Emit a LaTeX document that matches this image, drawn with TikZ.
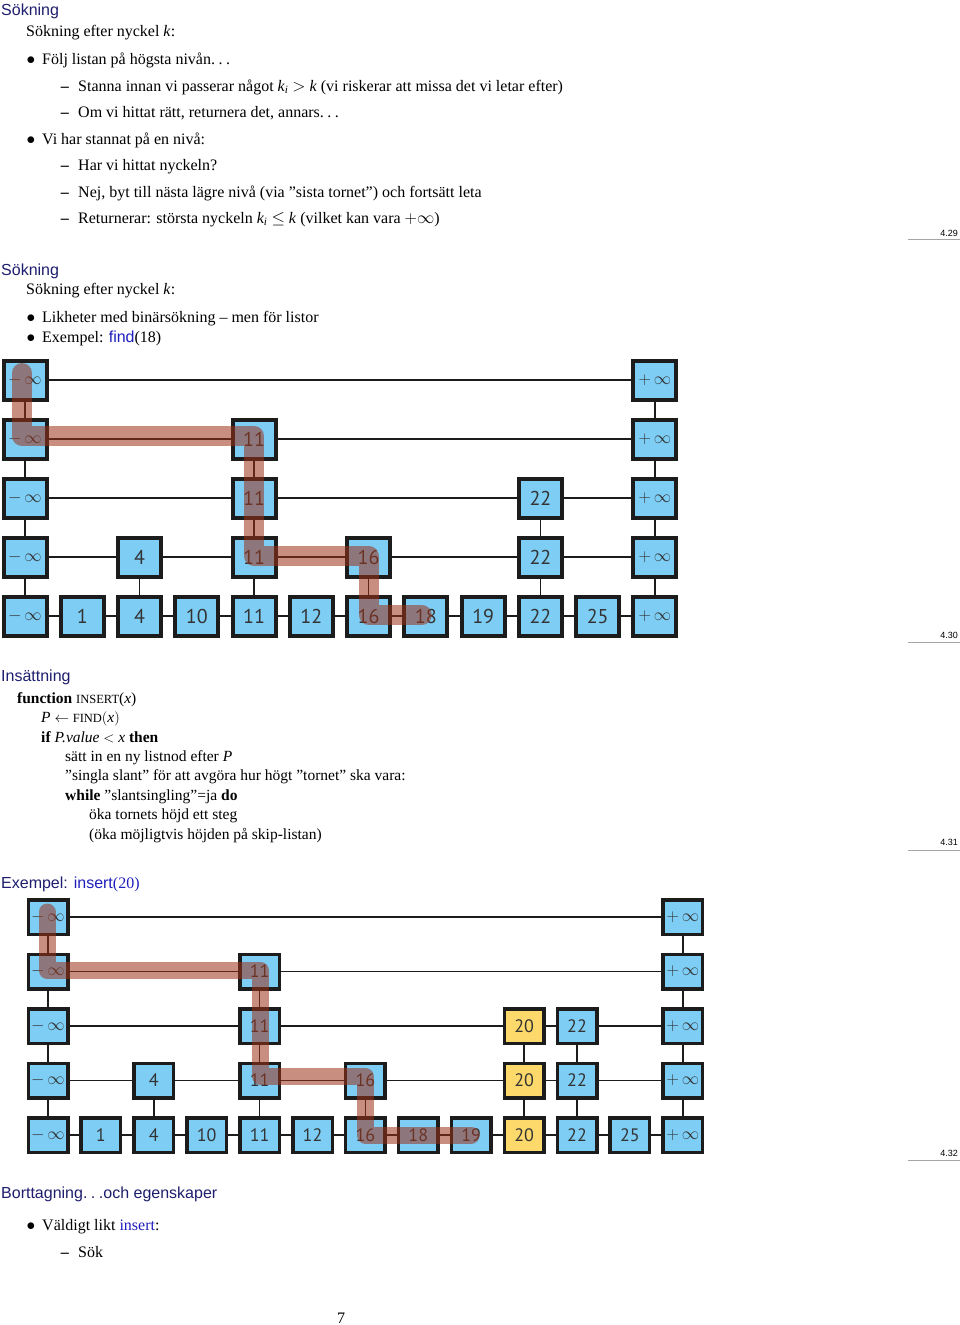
\documentclass[tikz,border=0pt]{standalone}
\usepackage{fontspec}
\setmainfont{Liberation Serif}
\newfontfamily\hfont{Liberation Sans}
\newfontfamily\bfont{PT Sans}
\definecolor{headc}{RGB}{30,30,110}
\definecolor{linkc}{RGB}{30,30,190}
\definecolor{boxblue}{RGB}{125,205,245}
\definecolor{boxyel}{RGB}{253,216,106}
\definecolor{boxline}{RGB}{28,28,28}
\definecolor{bandc}{RGB}{155,50,25}
\newcommand{\mninf}{{\fontsize{18}{18}\selectfont$-\,\infty$}}
\newcommand{\plinf}{{\fontsize{18}{18}\selectfont$+\,\infty$}}
\newcommand{\mninfB}{{\fontsize{16}{16}\selectfont$-\,\infty$}}
\newcommand{\plinfB}{{\fontsize{16}{16}\selectfont$+\,\infty$}}
\newcommand{\mydots}{.\kern0.22em.\kern0.22em.}
\begin{document}
\begin{tikzpicture}[x=1pt,y=-1pt,
  txt/.style={anchor=base west, inner sep=0pt, font=\fontsize{16}{19}\selectfont},
  ptxt/.style={anchor=base west, inner sep=0pt, font=\fontsize{15.5}{18}\selectfont},
  headtxt/.style={anchor=base west, inner sep=0pt, font=\hfont\fontsize{16}{19}\selectfont, text=headc},
  bul/.style={anchor=base, inner sep=0pt, font=\fontsize{16}{19}\selectfont},
  foot/.style={anchor=base east, inner sep=0pt, font=\hfont\fontsize{9}{10}\selectfont},
  footline/.style={draw=gray!70, line width=0.8pt},
  boxA/.style={draw=boxline, line width=4pt, fill=boxblue, minimum width=43pt, minimum height=39pt, inner sep=0pt, font=\bfont\fontsize{20}{20}\selectfont, text=boxline!90},
  boxB/.style={draw=boxline, line width=3.5pt, fill=boxblue, minimum width=39.5pt, minimum height=34.5pt, inner sep=0pt, font=\bfont\fontsize{18}{18}\selectfont, text=boxline!90},
  yel/.style={fill=boxyel},
  conn/.style={draw=boxline, line width=1.5pt},
  bandA/.style={draw=bandc, line width=20pt, opacity=0.55, line cap=round, line join=round},
  bandB/.style={draw=bandc, line width=17pt, opacity=0.55, line cap=round, line join=round}
]
\fill[white] (0,0) rectangle (960,1325);
\useasboundingbox (0,0) rectangle (960,1325);

% ---------- slide 4.29 ----------
\node[headtxt] (h1) at (1,16) {Sökning};
\node[txt] (t1) at (26,36) {Sökning efter nyckel \textit{k}:};
\node[bul] (b1) at (31,64) {$\bullet$};
\node[txt] (t2) at (42,64) {Följ listan på högsta nivån\mydots};
\node[bul] (d1) at (65,91) {\textbf{--}};
\node[txt] (t3) at (78,91) {Stanna innan vi passerar något \textit{k\textsubscript{i}} $>$ \textit{k} (vi riskerar att missa det vi letar efter)};
\node[bul] (d2) at (65,117) {\textbf{--}};
\node[txt] (t4) at (78,117) {Om vi hittat rätt, returnera det, annars\mydots};
\node[bul] (b2) at (31,144) {$\bullet$};
\node[txt] (t5) at (42,144) {Vi har stannat på en nivå:};
\node[bul] (d3) at (65,170) {\textbf{--}};
\node[txt] (t6) at (78,170) {Har vi hittat nyckeln?};
\node[bul] (d4) at (65,197) {\textbf{--}};
\node[txt] (t7) at (78,197) {Nej, byt till nästa lägre nivå (via ”sista tornet”) och fortsätt leta};
\node[bul] (d5) at (65,223) {\textbf{--}};
\node[txt] (t8) at (78,223) {Returnerar: största nyckeln \textit{k\textsubscript{i}} $\le$ \textit{k} (vilket kan vara $+\infty$)};
\node[foot] (f1) at (958,236) {4.29};
\coordinate (f1a) at (908,239); \coordinate (f1b) at (960,239);
\draw[footline] (f1a) -- (f1b);

% ---------- slide 4.30 ----------
\node[headtxt] (h2) at (1,275) {Sökning};
\node[txt] (t9) at (26,294) {Sökning efter nyckel \textit{k}:};
\node[bul] (b3) at (31,322) {$\bullet$};
\node[txt] (t10) at (42,322) {Likheter med binärsökning -- men för listor};
\node[bul] (b4) at (31,342) {$\bullet$};
\node[txt] (t11) at (42,342) {Exempel: {\color{linkc}\hfont find}(18)};

\foreach \c/\lab/\h in {0/{\mninf}/5,1/1/1,2/4/2,3/10/1,4/11/4,5/12/1,6/16/2,7/18/1,8/19/1,9/22/3,10/25/1,11/{\plinf}/5}{
  \foreach \l in {1,...,\h}{
    \node[boxA] (a\c-\l) at ({25+57.27*\c},{616-59*(\l-1)}) {\lab};
  }
}
\foreach \a/\b in {0/11}{\draw[conn] (a\a-5) -- (a\b-5);}
\foreach \a/\b in {0/4,4/11}{\draw[conn] (a\a-4) -- (a\b-4);}
\foreach \a/\b in {0/4,4/9,9/11}{\draw[conn] (a\a-3) -- (a\b-3);}
\foreach \a/\b in {0/2,2/4,4/6,6/9,9/11}{\draw[conn] (a\a-2) -- (a\b-2);}
\foreach \a/\b in {0/1,1/2,2/3,3/4,4/5,5/6,6/7,7/8,8/9,9/10,10/11}{\draw[conn] (a\a-1) -- (a\b-1);}
\foreach \c/\h in {0/5,2/2,4/4,6/2,9/3,11/5}{
  \foreach \l [evaluate=\l as \m using int(\l+1)] in {1,...,\h}{
    \ifnum\l<\h \draw[conn] (a\c-\l) -- (a\c-\m); \fi
  }
}
\draw[bandA] ([xshift=-3pt,yshift=7pt]a0-5.center) -- ([xshift=-3pt,yshift=3pt]a0-4.center)
  -- ([yshift=3pt]a4-4.center) -- ([yshift=1pt]a4-2.center) -- ([yshift=1pt]a6-2.center)
  -- ([yshift=1pt]a6-1.center) -- ([xshift=-4pt,yshift=1pt]a7-1.center);

\node[foot] (f2) at (958,638) {4.30};
\coordinate (f2a) at (908,642); \coordinate (f2b) at (960,642);
\draw[footline] (f2a) -- (f2b);

% ---------- slide 4.31 ----------
\node[headtxt] (h3) at (1,681) {Insättning};
\node[ptxt] (p1) at (17,703) {\textbf{function} {\fontsize{12.5}{12}\selectfont INSERT}(\textit{x})};
\node[ptxt] (p2) at (41,722) {\textit{P} $\leftarrow$ {\fontsize{12.5}{12}\selectfont FIND}$($\textit{x}$)$};
\node[ptxt] (p3) at (41,742) {\textbf{if} \textit{P.value} $<$ \textit{x} \textbf{then}};
\node[ptxt] (p4) at (65,761) {sätt in en ny listnod efter \textit{P}};
\node[ptxt] (p5) at (65,780) {”singla slant” för att avgöra hur högt ”tornet” ska vara:};
\node[ptxt] (p6) at (65,800) {\textbf{while} ”slantsingling”=ja \textbf{do}};
\node[ptxt] (p7) at (89,819) {öka tornets höjd ett steg};
\node[ptxt] (p8) at (89,839) {(öka möjligtvis höjden på skip-listan)};
\node[foot] (f3) at (958,845) {4.31};
\coordinate (f3a) at (908,850); \coordinate (f3b) at (960,850);
\draw[footline] (f3a) -- (f3b);

% ---------- slide 4.32 ----------
\node[headtxt] (h4) at (1,888) {Exempel: {\color{linkc}insert}{\color{linkc}\rmfamily(20)}};

\foreach \c/\lab/\h in {0/{\mninfB}/5,1/1/1,2/4/2,3/10/1,4/11/4,5/12/1,6/16/2,7/18/1,8/19/1,9/20/3,10/22/3,11/25/1,12/{\plinfB}/5}{
  \foreach \l in {1,...,\h}{
    \node[boxB] (b\c-\l) at ({48+52.9*\c},{1135-54.5*(\l-1)}) {\lab};
  }
}
\foreach \l in {1,2,3}{\node[boxB,yel] (y\l) at (b9-\l) {20};}
\foreach \a/\b in {0/12}{\draw[conn] (b\a-5) -- (b\b-5);}
\foreach \a/\b in {0/4,4/12}{\draw[conn] (b\a-4) -- (b\b-4);}
\foreach \a/\b in {0/4,4/9,9/10,10/12}{\draw[conn] (b\a-3) -- (b\b-3);}
\foreach \a/\b in {0/2,2/4,4/6,6/9,9/10,10/12}{\draw[conn] (b\a-2) -- (b\b-2);}
\foreach \a/\b in {0/1,1/2,2/3,3/4,4/5,5/6,6/7,7/8,8/9,9/10,10/11,11/12}{\draw[conn] (b\a-1) -- (b\b-1);}
\foreach \c/\h in {0/5,2/2,4/4,6/2,9/3,10/3,12/5}{
  \foreach \l [evaluate=\l as \m using int(\l+1)] in {1,...,\h}{
    \ifnum\l<\h \draw[conn] (b\c-\l) -- (b\c-\m); \fi
  }
}
\draw[bandB] ([xshift=-1pt,yshift=5pt]b0-5.center) -- ([xshift=-1pt,yshift=1pt]b0-4.center)
  -- ([xshift=1pt,yshift=1pt]b4-4.center) -- ([xshift=1pt,yshift=4pt]b4-2.center) -- ([yshift=4pt]b6-2.center)
  -- (b6-1.center) -- (b8-1.center);

\node[foot] (f4) at (958,1156) {4.32};
\coordinate (f4a) at (908,1160); \coordinate (f4b) at (960,1160);
\draw[footline] (f4a) -- (f4b);

% ---------- slide 4.33 ----------
\node[headtxt] (h5) at (1,1198) {Borttagning\mydots och egenskaper};
\node[bul] (b5) at (31,1230) {$\bullet$};
\node[txt] (t12) at (42,1230) {Väldigt likt {\color{linkc}insert}:};
\node[bul] (d6) at (65,1257) {\textbf{--}};
\node[txt] (t13) at (78,1257) {Sök};
\node[txt, anchor=base] (pg) at (341,1323) {7};
\end{tikzpicture}
\end{document}
